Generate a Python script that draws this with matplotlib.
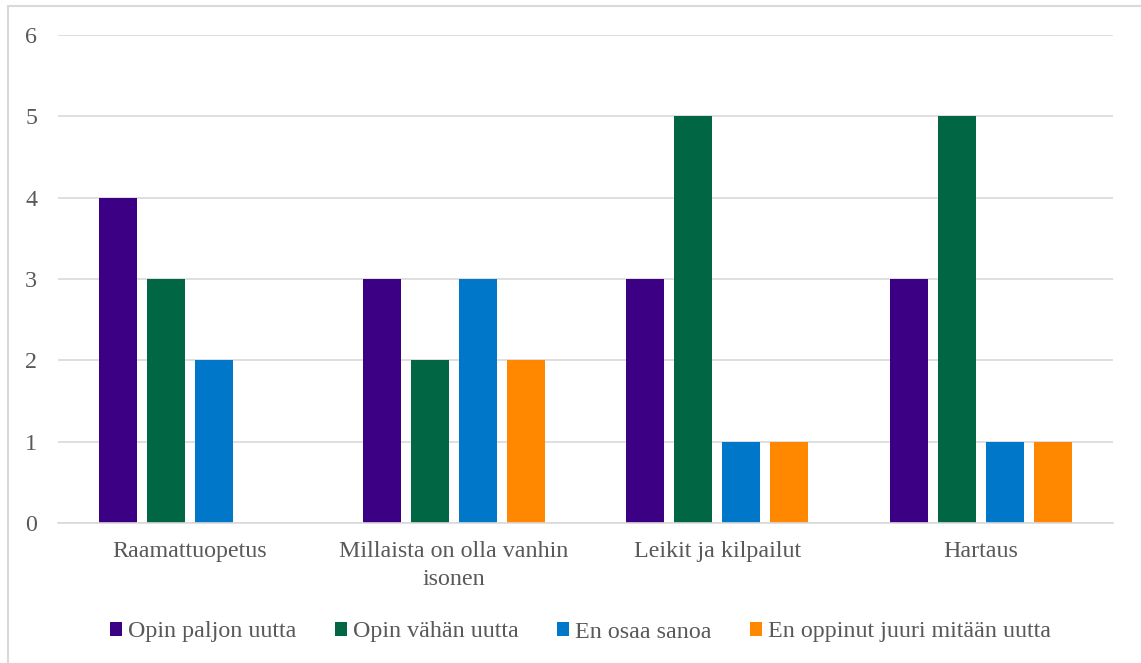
import matplotlib
matplotlib.use("Agg")
import matplotlib.pyplot as plt
from matplotlib.patches import Rectangle
import numpy as np

categories = ["Raamattuopetus", "Millaista on olla vanhin\nisonen", "Leikit ja kilpailut", "Hartaus"]
series_names = ["Opin paljon uutta", "Opin vähän uutta", "En osaa sanoa", "En oppinut juuri mitään uutta"]
opin_paljon = [4, 3, 3, 3]
opin_vahan = [3, 2, 5, 5]
en_osaa = [2, 3, 1, 1]
en_oppinut = [0, 2, 1, 1]
yticks = [0, 1, 2, 3, 4, 5, 6]

colors = ["#3B0083", "#006644", "#0077C8", "#FF8800"]
text_color = "#595959"

plt.rcParams['font.family'] = ['Liberation Serif', 'DejaVu Serif']
fs = 17.3

W, H = 1141, 663
fig = plt.figure(figsize=(W/100, H/100), dpi=100)
ax = fig.add_axes([58/W, 1 - 523/H, (1113-58)/W, (523-35)/H])

x = np.arange(len(categories))
bw = 0.144
step = 0.182
all_series = [opin_paljon, opin_vahan, en_osaa, en_oppinut]
for i, (vals, name, c) in enumerate(zip(all_series, series_names, colors)):
    ax.bar(x + (i - 1.5) * step, vals, width=bw, color=c, label=name, zorder=3)

ax.set_xlim(-0.5, len(categories) - 0.5)
ax.set_ylim(0, 6)
ax.set_yticks(yticks)
ax.set_xticks(x)
ax.set_xticklabels(categories, fontsize=fs, color=text_color, linespacing=1.45)
ax.tick_params(axis='y', labelsize=fs, labelcolor=text_color, length=0, pad=15)
ax.tick_params(axis='x', length=0, pad=13)
ax.grid(axis='y', color="#D9D9D9", linewidth=1.2, zorder=0)
for s in ['top', 'right', 'left']:
    ax.spines[s].set_visible(False)
ax.spines['bottom'].set_color("#D9D9D9")
ax.spines['bottom'].set_linewidth(1.2)
ax.spines['bottom'].set_zorder(4)

leg = fig.legend(loc='center', bbox_to_anchor=(0.509, 1 - 632/H), ncol=4, frameon=False,
                 fontsize=fs, handlelength=0.5, handleheight=0.5, handletextpad=0.25,
                 columnspacing=1.6, labelcolor=text_color)

fig.patches.append(Rectangle((8/W, -0.1), 1.2, (1 - 6/H) + 0.1, transform=fig.transFigure,
                             fill=False, edgecolor="#D9D9D9", linewidth=1.5))

fig.savefig("out.png", dpi=100)
